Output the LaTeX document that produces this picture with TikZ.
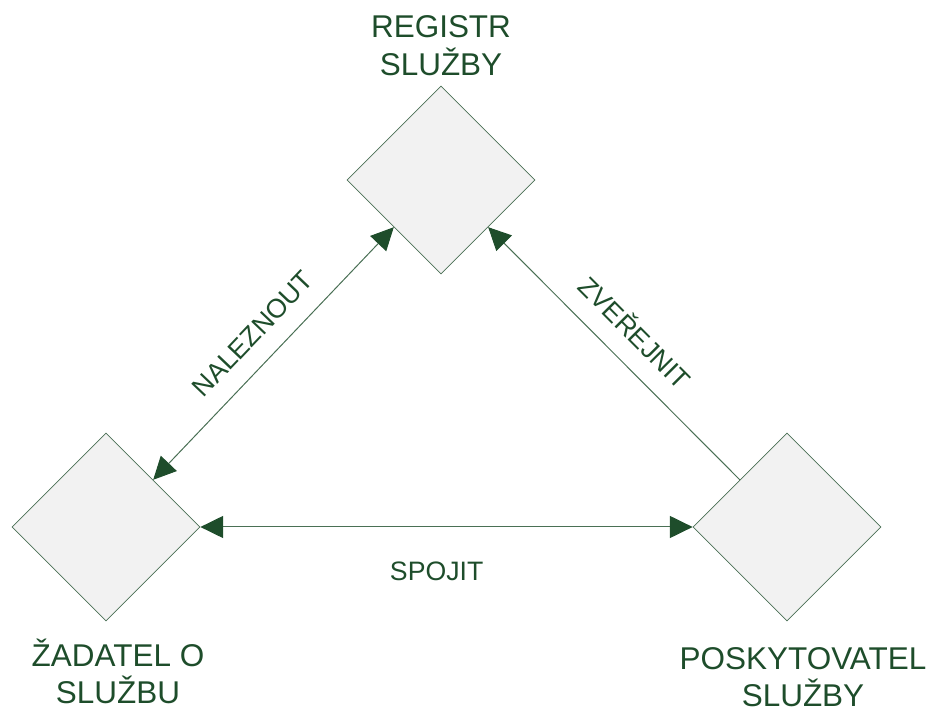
\documentclass[tikz,border=0pt]{standalone}
\usepackage{fontspec}
\setmainfont{Liberation Sans}
\usepackage{tikz}
\usetikzlibrary{shapes.geometric, arrows.meta, positioning}
\definecolor{darkgreen}{HTML}{1E4D2B}
\definecolor{linegreen}{HTML}{4A7055}
\definecolor{boxfill}{HTML}{F2F2F2}

\begin{document}
\begin{tikzpicture}[x=0.75pt, y=0.75pt,
    >={Triangle[length=17pt, width=16.5pt, color=darkgreen]},
    role/.style={diamond, aspect=1, draw=linegreen, fill=boxfill, line width=0.6pt,
      minimum width=141pt, minimum height=141pt, inner sep=0pt},
    rolename/.style={text=darkgreen, font=\fontsize{23.6}{28}\selectfont, align=center, inner sep=0pt},
    link/.style={draw=linegreen, line width=0.75pt},
    linkname/.style={text=darkgreen, font=\fontsize{20}{24}\selectfont, inner sep=0pt}]
      \useasboundingbox (0,0) rectangle (936,711);

      % the three roles
      \node[role] (reg) at (441,531) {};
      \node[role] (zad) at (106,184) {};
      \node[role] (pos) at (787,184) {};

      \node[rolename, above=7.5pt of reg] (regname) {REGISTR\\SLUŽBY};
      \node[rolename, below=12.75pt of zad, xshift=9pt] (zadname) {ŽADATEL O\\SLUŽBU};
      \node[rolename, below=19.5pt of pos, xshift=12pt] (posname) {POSKYTOVATEL\\SLUŽBY};

      % links between them
      \draw[link, <->] (zad.north east) -- node[linkname, sloped, above=14pt] (najit) {NALEZNOUT} (reg.south west);
      \draw[link, ->] (pos.north west) -- node[linkname, sloped, above=14pt] (zverejnit) {ZVEŘEJNIT} (reg.south east);
      \draw[link, <->] (zad.east) -- node[linkname, below=25.5pt, pos=0.48] (spojit) {SPOJIT} (pos.west);
    \end{tikzpicture}
\end{document}
